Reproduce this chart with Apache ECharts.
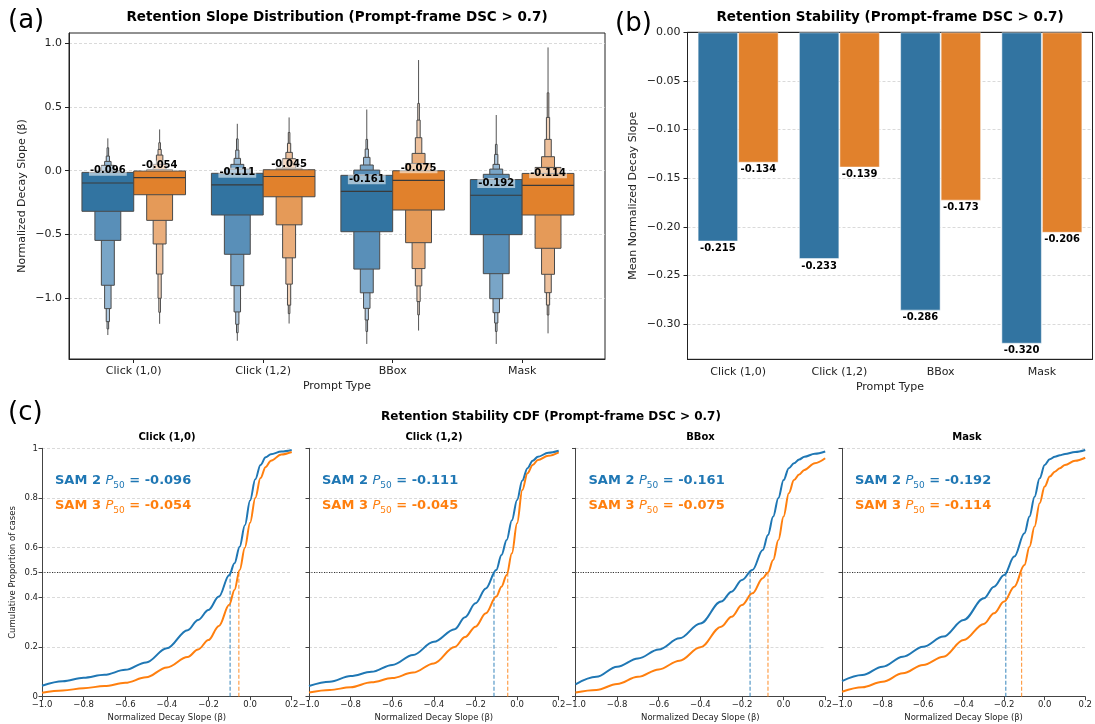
<!DOCTYPE html>
<html>
<head>
<meta charset="utf-8">
<script src="https://cdn.jsdelivr.net/npm/echarts@6/dist/echarts.min.js"></script>
<style>
html, body { margin: 0; padding: 0; background: #fff; }
#main { width: 1095px; height: 724px; }
</style>
</head>
<body>
<div id="main"></div>
<script>
var prompts = ['Click (1,0)', 'Click (1,2)', 'BBox', 'Mask'];

// (a) letter-value boxes, level 1 (IQR) outward, one row per prompt
var sam2Median = [-0.096, -0.111, -0.161, -0.192];
var sam3Median = [-0.054, -0.045, -0.075, -0.114];
var sam2Low = [
  [-0.318, -0.546, -0.898, -1.081, -1.183, -1.24],
  [-0.347, -0.655, -0.901, -1.107, -1.204, -1.27],
  [-0.478, -0.771, -0.957, -1.079, -1.17, -1.26],
  [-0.501, -0.807, -1.003, -1.113, -1.194, -1.26]
];
var sam2High = [
  [-0.013, 0.0, 0.042, 0.073, 0.115, 0.18],
  [-0.020, 0.013, 0.05, 0.097, 0.162, 0.25],
  [-0.036, 0.005, 0.045, 0.105, 0.17, 0.246],
  [-0.069, -0.028, 0.013, 0.05, 0.128, 0.207]
];
var sam2Tail = [[-1.288, 0.254], [-1.333, 0.368], [-1.358, 0.48], [-1.358, 0.437]];
var sam3Low = [
  [-0.188, -0.389, -0.574, -0.81, -1.0, -1.11],
  [-0.204, -0.424, -0.683, -0.889, -1.054, -1.12],
  [-0.308, -0.564, -0.767, -0.903, -1.026, -1.13],
  [-0.347, -0.608, -0.812, -0.956, -1.053, -1.131]
];
var sam3High = [
  [-0.002, 0.01, 0.05, 0.123, 0.167, 0.22],
  [0.008, 0.02, 0.094, 0.144, 0.215, 0.3],
  [0.0, 0.057, 0.136, 0.259, 0.397, 0.528],
  [-0.021, 0.026, 0.11, 0.246, 0.418, 0.611]
];
var sam3Tail = [[-1.2, 0.324], [-1.198, 0.418], [-1.253, 0.868], [-1.275, 0.967]];

// (b) mean slopes
var sam2Mean = [-0.215, -0.233, -0.286, -0.320];
var sam3Mean = [-0.134, -0.139, -0.173, -0.206];

// (c) CDF read at these slopes
var cdfX = [-1.0, -0.9, -0.8, -0.7, -0.6, -0.5, -0.4, -0.3, -0.25, -0.2, -0.15, -0.1,
  -0.075, -0.05, -0.025, 0, 0.025, 0.05, 0.075, 0.1, 0.15, 0.2];
var sam2Cdf = [
  [0.044, 0.062, 0.076, 0.088, 0.108, 0.138, 0.195, 0.268, 0.309, 0.349, 0.403, 0.49, 0.537, 0.604, 0.69, 0.79, 0.875, 0.933, 0.964, 0.976, 0.987, 0.993],
  [0.043, 0.06, 0.083, 0.1, 0.128, 0.168, 0.221, 0.272, 0.32, 0.376, 0.436, 0.51, 0.57, 0.631, 0.71, 0.792, 0.87, 0.92, 0.95, 0.966, 0.982, 0.99],
  [0.05, 0.08, 0.121, 0.154, 0.19, 0.235, 0.295, 0.383, 0.423, 0.47, 0.51, 0.591, 0.651, 0.725, 0.8, 0.872, 0.92, 0.94, 0.955, 0.966, 0.978, 0.987],
  [0.063, 0.087, 0.121, 0.161, 0.201, 0.242, 0.309, 0.396, 0.443, 0.49, 0.564, 0.658, 0.725, 0.805, 0.879, 0.933, 0.956, 0.966, 0.972, 0.977, 0.985, 0.993]
];
var sam3Cdf = [
  [0.016, 0.025, 0.034, 0.043, 0.056, 0.078, 0.118, 0.16, 0.19, 0.228, 0.285, 0.37, 0.43, 0.51, 0.6, 0.7, 0.8, 0.88, 0.925, 0.95, 0.975, 0.985],
  [0.017, 0.027, 0.038, 0.058, 0.075, 0.097, 0.134, 0.2, 0.24, 0.282, 0.336, 0.403, 0.443, 0.49, 0.577, 0.698, 0.832, 0.9, 0.933, 0.953, 0.97, 0.984],
  [0.017, 0.027, 0.051, 0.08, 0.11, 0.145, 0.199, 0.282, 0.322, 0.369, 0.416, 0.477, 0.5, 0.55, 0.631, 0.725, 0.819, 0.872, 0.895, 0.913, 0.94, 0.96],
  [0.02, 0.038, 0.06, 0.094, 0.128, 0.161, 0.228, 0.293, 0.336, 0.383, 0.443, 0.53, 0.604, 0.685, 0.779, 0.846, 0.886, 0.906, 0.92, 0.933, 0.95, 0.962]
];

var yTicksA = [-1, -0.5, 0, 0.5, 1];
var yTicksB = [0, -0.05, -0.1, -0.15, -0.2, -0.25, -0.3];
var yTicksC = [0, 0.2, 0.4, 0.5, 0.6, 0.8, 1];

var FONT = '"DejaVu Sans", sans-serif';
var BLUE = '#3274a1', ORANGE = '#e1812c';
var LINE_BLUE = '#1f77b4', LINE_ORANGE = '#ff7f0e';
var boxColors = [
  ['#3274a1', '#598fb8', '#79a5c7', '#98bad6', '#b4cde3', '#cddeec'],
  ['#e1812c', '#e59a58', '#eaae7c', '#eec19d', '#f2d3ba', '#f6e2d2']
];
var lows = [sam2Low, sam3Low], highs = [sam2High, sam3High];
var tails = [sam2Tail, sam3Tail], medians = [sam2Median, sam3Median];

function minusFmt(d) {
  return function (v) {
    return (v < -1e-9 ? '\u2212' : '') + Math.abs(v).toFixed(d);
  };
}

function boxen(hue) {
  return function (params, api) {
    var c = api.value(0);
    var xc = c + (hue === 0 ? -0.2 : 0.2);
    var lo = lows[hue][c], hi = highs[hue][c], tl = tails[hue][c], med = medians[hue][c];
    var unit = api.size([1, 0])[0];
    var cx = api.coord([xc, 0])[0];
    var kids = [];
    var t0 = api.coord([xc, tl[1]]), t1 = api.coord([xc, tl[0]]);
    kids.push({ type: 'line', shape: { x1: cx, y1: t0[1], x2: cx, y2: t1[1] },
      style: { stroke: '#555', lineWidth: 1 } });
    for (var k = lo.length - 1; k >= 0; k--) {
      var w = 0.4 * Math.pow(0.5, k) * unit;
      var yt = api.coord([xc, hi[k]])[1], yb = api.coord([xc, lo[k]])[1];
      kids.push({ type: 'rect', shape: { x: cx - w / 2, y: yt, width: w, height: yb - yt },
        style: { fill: boxColors[hue][k], stroke: '#4a4a4a', lineWidth: 1 } });
    }
    var wm = 0.4 * unit, ym = api.coord([xc, med])[1];
    kids.push({ type: 'line', shape: { x1: cx - wm / 2, y1: ym, x2: cx + wm / 2, y2: ym },
      style: { stroke: '#3a3a3a', lineWidth: 1.2 } });
    kids.push({ type: 'text', style: {
      text: med.toFixed(3), x: cx, y: api.coord([xc, med + 0.095])[1],
      align: 'center', verticalAlign: 'middle', fill: '#000',
      font: 'bold 10px ' + FONT, backgroundColor: 'rgba(255,255,255,0.55)', padding: [0, 1]
    } });
    return { type: 'group', children: kids };
  };
}

var cdfLeft = [42, 309, 575.5, 842];
var grids = [
  { left: 69, top: 33, width: 536, height: 326, show: true, borderColor: '#222', borderWidth: 1 },
  { left: 687.5, top: 32.3, width: 405, height: 327, show: true, borderColor: '#222', borderWidth: 1 }
];
cdfLeft.forEach(function (l) {
  grids.push({ left: l, top: 448.3, width: 249.7, height: 248.4 });
});

var tickLabel = { color: '#222', fontSize: 11, fontFamily: FONT };
var axisLineA = { show: true, onZero: false, lineStyle: { color: '#222', width: 1 } };
var axisLineC = { show: true, onZero: false, lineStyle: { color: '#444', width: 1 } };
var dashGrid = { show: true, lineStyle: { color: '#d0d0d0', type: [3, 2], width: 0.8 } };

var xAxes = [
  { gridIndex: 0, type: 'value', min: -0.5, max: 3.64,
    axisLine: axisLineA, splitLine: { show: false },
    axisTick: { customValues: [0, 1, 2, 3], length: 4, lineStyle: { color: '#222' } },
    axisLabel: Object.assign({ customValues: [0, 1, 2, 3], margin: 7,
      formatter: function (v) { return prompts[Math.round(v)]; } }, tickLabel),
    name: 'Prompt Type', nameLocation: 'middle', nameGap: 22,
    nameTextStyle: { fontSize: 11, fontFamily: FONT, color: '#222' } },
  { gridIndex: 1, type: 'category', data: prompts,
    axisLine: axisLineA,
    axisTick: { alignWithLabel: true, length: 4, lineStyle: { color: '#222' } },
    axisLabel: Object.assign({ margin: 7 }, tickLabel),
    name: 'Prompt Type', nameLocation: 'middle', nameGap: 22,
    nameTextStyle: { fontSize: 11, fontFamily: FONT, color: '#222' } }
];
var yAxes = [
  { gridIndex: 0, type: 'value', min: -1.476, max: 1.08,
    axisLine: axisLineA, splitLine: dashGrid,
    axisTick: { show: true, customValues: yTicksA, length: 4, lineStyle: { color: '#222' } },
    axisLabel: Object.assign({ customValues: yTicksA, margin: 7, formatter: minusFmt(1) }, tickLabel),
    name: 'Normalized Decay Slope (\u03b2)', nameLocation: 'middle', nameGap: 41,
    nameTextStyle: { fontSize: 11, fontFamily: FONT, color: '#222' } },
  { gridIndex: 1, type: 'value', min: -0.336, max: 0,
    axisLine: axisLineA, splitLine: dashGrid,
    axisTick: { show: true, customValues: yTicksB, length: 4, lineStyle: { color: '#222' } },
    axisLabel: Object.assign({ customValues: yTicksB, margin: 7, formatter: minusFmt(2) }, tickLabel),
    name: 'Mean Normalized Decay Slope', nameLocation: 'middle', nameGap: 49,
    nameTextStyle: { fontSize: 11, fontFamily: FONT, color: '#222' } }
];
cdfLeft.forEach(function (l, i) {
  var g = i + 2;
  xAxes.push({ gridIndex: g, type: 'value', min: -1, max: 0.2, interval: 0.2,
    axisLine: axisLineC, splitLine: { show: false },
    axisTick: { length: 3.5, lineStyle: { color: '#444' } },
    axisLabel: { color: '#222', fontSize: 8.5, fontFamily: FONT, margin: 4, formatter: minusFmt(1) },
    name: 'Normalized Decay Slope (\u03b2)', nameLocation: 'middle', nameGap: 17,
    nameTextStyle: { fontSize: 8.5, fontFamily: FONT, color: '#222' } });
  yAxes.push({ gridIndex: g, type: 'value', min: 0, max: 1,
    axisLine: axisLineC, splitLine: dashGrid,
    axisTick: { show: true, customValues: yTicksC, length: 3.5, lineStyle: { color: '#444' } },
    axisLabel: { show: i === 0, customValues: yTicksC, color: '#222', fontSize: 8.5, fontFamily: FONT, margin: 4,
      formatter: function (v) { return String(+v.toFixed(1)); } },
    name: i === 0 ? 'Cumulative Proportion of cases' : '', nameLocation: 'middle', nameGap: 25,
    nameTextStyle: { fontSize: 8.5, fontFamily: FONT, color: '#222' } });
});
// solid top spine for (b), drawn over the 0.00 grid line
xAxes.push({ gridIndex: 1, type: 'category', data: prompts, position: 'top',
  axisLine: axisLineA, axisTick: { show: false }, axisLabel: { show: false }, splitLine: { show: false } });

var series = [
  { type: 'custom', name: 'SAM 2', xAxisIndex: 0, yAxisIndex: 0, data: [0, 1, 2, 3], renderItem: boxen(0), z: 3 },
  { type: 'custom', name: 'SAM 3', xAxisIndex: 0, yAxisIndex: 0, data: [0, 1, 2, 3], renderItem: boxen(1), z: 3 },
  { type: 'bar', name: 'SAM 2', xAxisIndex: 1, yAxisIndex: 1, data: sam2Mean, barWidth: '40%', barGap: '0%',
    itemStyle: { color: BLUE, borderColor: 'rgba(255,255,255,0.5)', borderWidth: 1 },
    label: { show: true, position: 'bottom', distance: 2, color: '#000', fontWeight: 'bold', fontSize: 10,
      fontFamily: FONT, formatter: function (p) { return p.value.toFixed(3); } } },
  { type: 'bar', name: 'SAM 3', xAxisIndex: 1, yAxisIndex: 1, data: sam3Mean, barWidth: '40%', barGap: '0%',
    itemStyle: { color: ORANGE, borderColor: 'rgba(255,255,255,0.5)', borderWidth: 1 },
    label: { show: true, position: 'bottom', distance: 2, color: '#000', fontWeight: 'bold', fontSize: 10,
      fontFamily: FONT, formatter: function (p) { return p.value.toFixed(3); } } }
];

var graphics = [];
function addText(x, y, text, font, align, color) {
  graphics.push({ type: 'text', x: x, y: y, silent: true,
    style: { text: text, font: font, align: align || 'center', verticalAlign: 'middle', fill: color || '#000' } });
}

prompts.forEach(function (name, i) {
  var g = i + 2;
  function pts(arr) { return cdfX.map(function (x, j) { return [x, arr[i][j]]; }); }
  var m2 = sam2Median[i], m3 = sam3Median[i];
  series.push({ type: 'line', xAxisIndex: g, yAxisIndex: g, silent: true, symbol: 'none', z: 1,
    data: [[-1, 0.5], [0.2, 0.5]], lineStyle: { color: '#d0d0d0', type: [3, 2], width: 0.8 } });
  series.push({ type: 'line', xAxisIndex: g, yAxisIndex: g, silent: true, symbol: 'none', z: 2,
    data: [[-1, 0.5], [Math.max(m2, m3), 0.5]], lineStyle: { color: '#333', type: [1, 1.5], width: 1 } });
  [[m2, LINE_BLUE], [m3, LINE_ORANGE]].forEach(function (m) {
    series.push({ type: 'line', xAxisIndex: g, yAxisIndex: g, silent: true, symbol: 'none', z: 2,
      data: [[m[0], 0], [m[0], 0.5]], lineStyle: { color: m[1], type: [4, 2], width: 1.2, opacity: 0.75 } });
  });
  series.push({ type: 'line', name: 'SAM 2', xAxisIndex: g, yAxisIndex: g, data: pts(sam2Cdf),
    showSymbol: false, smooth: 0.35, smoothMonotone: 'x', z: 4, lineStyle: { color: LINE_BLUE, width: 2 } });
  series.push({ type: 'line', name: 'SAM 3', xAxisIndex: g, yAxisIndex: g, data: pts(sam3Cdf),
    showSymbol: false, smooth: 0.35, smoothMonotone: 'x', z: 4, lineStyle: { color: LINE_ORANGE, width: 2 } });

  var left = cdfLeft[i];
  addText(left + 125, 437, name, 'bold 10px ' + FONT);
  [[m2, 'SAM 2', LINE_BLUE, 481], [m3, 'SAM 3', LINE_ORANGE, 506]].forEach(function (a) {
    graphics.push({ type: 'text', x: left + 13, y: a[3], silent: true, style: {
      text: '{b|' + a[1] + ' }{i|P}{s|50}{b| = ' + a[0].toFixed(3) + '}',
      verticalAlign: 'middle', align: 'left', fill: a[2],
      rich: {
        b: { fontFamily: FONT, fontWeight: 'bold', fontSize: 13, color: a[2], lineHeight: 18, verticalAlign: 'middle' },
        i: { fontFamily: FONT, fontStyle: 'italic', fontSize: 13, color: a[2], lineHeight: 18, verticalAlign: 'middle' },
        s: { fontFamily: FONT, fontSize: 9, color: a[2], lineHeight: 17, verticalAlign: 'bottom' }
      } } });
  });
});

addText(8, 21, '(a)', '26px ' + FONT, 'left');
addText(615, 24, '(b)', '26px ' + FONT, 'left');
addText(8, 413, '(c)', '26px ' + FONT, 'left');
addText(337, 17, 'Retention Slope Distribution (Prompt-frame DSC > 0.7)', 'bold 13.5px ' + FONT);
addText(890, 17, 'Retention Stability (Prompt-frame DSC > 0.7)', 'bold 13.5px ' + FONT);
addText(551, 417, 'Retention Stability CDF (Prompt-frame DSC > 0.7)', 'bold 12px ' + FONT);

var chart = echarts.init(document.getElementById('main'), null, { renderer: 'canvas' });
chart.setOption({
  animation: false,
  backgroundColor: '#fff',
  textStyle: { fontFamily: FONT },
  grid: grids,
  xAxis: xAxes,
  yAxis: yAxes,
  series: series,
  graphic: graphics
});
</script>
</body>
</html>
